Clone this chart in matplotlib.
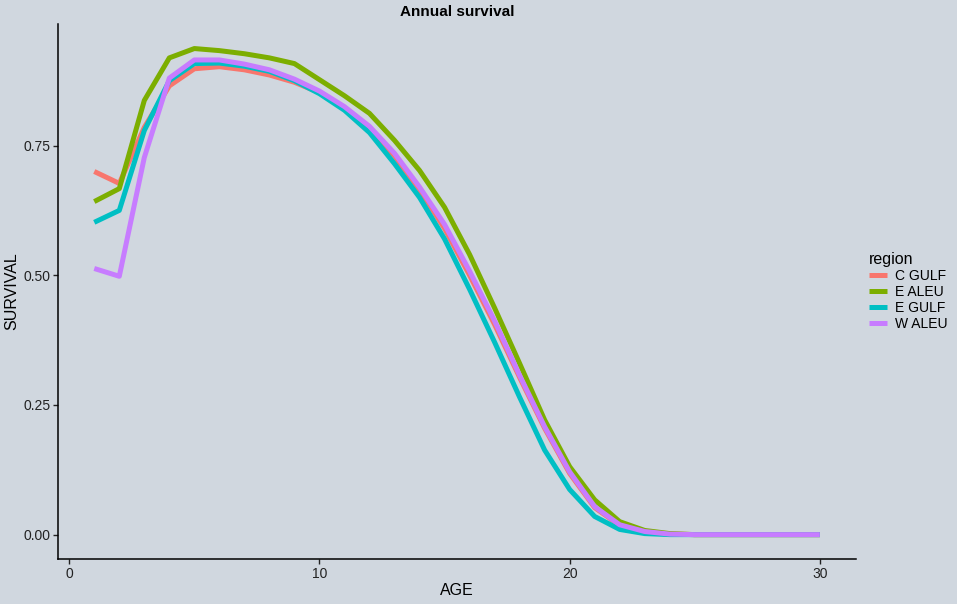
import matplotlib.pyplot as plt

plt.rcParams['font.family'] = ['Liberation Sans', 'DejaVu Sans']

# survival by age
ages = list(range(1, 31))

c_gulf = [0.700, 0.677, 0.785, 0.865, 0.898, 0.902, 0.896, 0.886, 0.872, 0.852,
          0.822, 0.782, 0.730, 0.665, 0.590, 0.500, 0.405, 0.303, 0.205, 0.118,
          0.052, 0.018, 0.005, 0.001, 0.0, 0.0, 0.0, 0.0, 0.0, 0.0]
e_aleu = [0.642, 0.667, 0.837, 0.919, 0.937, 0.933, 0.927, 0.919, 0.908, 0.877,
          0.846, 0.812, 0.760, 0.702, 0.631, 0.540, 0.437, 0.330, 0.221, 0.131,
          0.067, 0.025, 0.008, 0.002, 0.0, 0.0, 0.0, 0.0, 0.0, 0.0]
e_gulf = [0.602, 0.625, 0.779, 0.875, 0.908, 0.909, 0.903, 0.893, 0.875, 0.850,
          0.818, 0.775, 0.715, 0.650, 0.570, 0.473, 0.371, 0.265, 0.163, 0.087,
          0.035, 0.010, 0.002, 0.0, 0.0, 0.0, 0.0, 0.0, 0.0, 0.0]
w_aleu = [0.513, 0.498, 0.727, 0.880, 0.915, 0.915, 0.907, 0.896, 0.878, 0.855,
          0.825, 0.787, 0.735, 0.670, 0.598, 0.508, 0.412, 0.307, 0.208, 0.121,
          0.054, 0.019, 0.006, 0.001, 0.0, 0.0, 0.0, 0.0, 0.0, 0.0]

regions = ["C GULF", "E ALEU", "E GULF", "W ALEU"]
colors = ["#F8766D", "#7CAE00", "#00BFC4", "#C77CFF"]
bg = "#D0D7DF"

fig = plt.figure(figsize=(9.57, 6.04), dpi=100, facecolor=bg)
ax = fig.add_axes([0.0606, 0.0745, 0.834, 0.8855], facecolor=bg)

for name, vals, col in zip(regions, [c_gulf, e_aleu, e_gulf, w_aleu], colors):
    ax.plot(ages, vals, color=col, lw=3.6, label=name, solid_capstyle="butt")

ax.set_xlim(-0.45, 31.45)
ax.set_ylim(-0.047, 0.984)
ax.set_xticks([0, 10, 20, 30])
ax.set_yticks([0, 0.25, 0.5, 0.75])
ax.set_yticklabels(["0.00", "0.25", "0.50", "0.75"])
ax.tick_params(colors="#222222", labelsize=10, length=3.5, width=1, pad=2)
for s in ["top", "right"]:
    ax.spines[s].set_visible(False)
for s in ["left", "bottom"]:
    ax.spines[s].set_linewidth(1.1)
    ax.spines[s].set_color("black")

ax.set_xlabel("AGE", fontsize=11.5, color="black", labelpad=2)
ax.set_ylabel("SURVIVAL", fontsize=11.5, color="black", labelpad=3)
ax.set_title("Annual survival", fontsize=11, fontweight="bold", pad=6)

leg = ax.legend(title="region", loc="upper left", bbox_to_anchor=(1.0, 0.598),
                frameon=False, fontsize=10, title_fontsize=11.5,
                handlelength=1.3, handletextpad=0.6, labelspacing=0.15,
                alignment="left")

fig.savefig("out.png", dpi=100, facecolor=bg)
